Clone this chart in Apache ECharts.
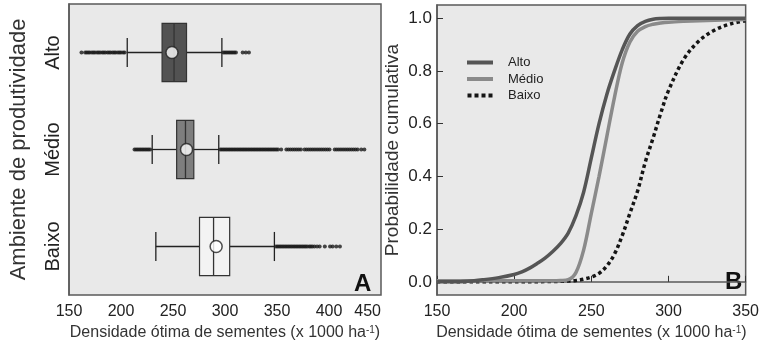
<!DOCTYPE html>
<html>
<head>
<meta charset="utf-8">
<script src="https://cdn.jsdelivr.net/npm/echarts@6/dist/echarts.min.js"></script>
<style>
  html, body { margin: 0; padding: 0; background: #fff; }
  #chart { width: 762px; height: 346px; }
</style>
</head>
<body>
<div id="chart"></div>
<script>
// panel A: boxplots of optimum seeding density per yield environment
const groups = ['Baixo', 'Médio', 'Alto'];
// [lower whisker, Q1, median, Q3, upper whisker]
const boxBaixo = [233.5, 275.5, 289, 304.5, 347.5];
const boxMedio = [230, 253.5, 262, 270, 294];
const boxAlto = [206, 239.5, 251, 263, 297];
const means = [291.5, 263, 249];

const outBaixo = [349, 350.5, 352, 353.5, 355, 356.5, 358, 359.5, 361, 362.5, 364, 365.5, 367, 368.5,
  370, 371.5, 373, 374.5, 376, 377.5, 379, 381, 382.5, 384, 386, 388.5, 391, 396, 401, 403.5, 407, 410.5];
const outMedio = [213, 214.5, 216, 217.5, 219, 220.5, 222, 223.5, 225, 226.5, 228,
  295.5, 297, 298.5, 300, 301.5, 303, 304.5, 306, 307.5, 309, 310.5, 312, 313.5, 315, 316.5, 318,
  319.5, 321, 322.5, 324, 325.5, 327, 328.5, 330, 331.5, 333, 334.5, 336, 337.5, 339, 340.5, 342,
  343.5, 345, 346.5, 348, 349.5, 351, 354,
  359, 361, 363, 365, 367, 369, 371, 373,
  376.5, 378.5, 380.5, 382.5, 384.5, 386.5, 388.5, 390.5, 392.5, 394.5, 396.5, 398.5, 400.5,
  405.5, 407.5, 409.5, 411.5, 413.5, 415.5, 417.5, 419.5, 421.5, 423.5, 425.5, 427.5, 431, 434];
const outAlto = [162, 165.5, 167, 168.5, 170, 172, 173.5, 175, 177, 178.5, 180, 182, 183.5, 185,
  187, 188.5, 190, 192, 193.5, 195, 197, 198.5, 200, 202, 203.5,
  298.5, 300, 301.5, 303, 304.5, 306, 307.5, 309, 310.5, 317, 320, 323];

// panel B: cumulative probability curves
const density = [150, 160, 170, 180, 190, 200, 205, 210, 215, 220, 225, 230, 235, 240, 245, 250,
  255, 260, 265, 270, 275, 280, 285, 290, 295, 300, 310, 320, 330, 340, 350];
const cdfAlto = [0, 0, 0.002, 0.008, 0.016, 0.028, 0.038, 0.052, 0.07, 0.09, 0.115, 0.145, 0.185,
  0.25, 0.34, 0.47, 0.6, 0.71, 0.8, 0.88, 0.94, 0.972, 0.988, 0.996, 0.999, 1, 1, 1, 1, 1, 1];
const cdfMedio = [0.004, 0.004, 0.004, 0.004, 0.004, 0.004, 0.004, 0.004, 0.004, 0.004, 0.004, 0.005,
  0.008, 0.035, 0.12, 0.26, 0.4, 0.55, 0.7, 0.83, 0.91, 0.95, 0.968, 0.977, 0.982, 0.985, 0.988,
  0.99, 0.992, 0.994, 0.995];
const cdfBaixo = [0, 0, 0, 0, 0, 0, 0, 0, 0, 0.001, 0.001, 0.002, 0.003, 0.005, 0.01, 0.018, 0.032,
  0.06, 0.105, 0.175, 0.26, 0.345, 0.455, 0.545, 0.64, 0.725, 0.845, 0.915, 0.955, 0.978, 0.99];

const probTicks = [0, 0.2, 0.4, 0.6, 0.8, 1.0];

const font = 'Liberation Sans, Arial, sans-serif';
const frame = '#5a5a5a';
const boxFill = ['#f3f3f3', '#7e7e7e', '#525252'];

const boxData = [boxBaixo, boxMedio, boxAlto].map((b, i) => [i].concat(b));

function renderBox(params, api) {
  const cat = api.value(0);
  const lo = api.coord([api.value(1), cat]);
  const q1 = api.coord([api.value(2), cat]);
  const med = api.coord([api.value(3), cat]);
  const q3 = api.coord([api.value(4), cat]);
  const hi = api.coord([api.value(5), cat]);
  const band = api.size([0, 1])[1];
  const hb = band * 0.3;
  const hc = band * 0.15;
  const y = lo[1];
  const ln = { stroke: '#222', lineWidth: 1.3 };
  return {
    type: 'group',
    children: [
      { type: 'line', shape: { x1: lo[0], y1: y, x2: q1[0], y2: y }, style: ln },
      { type: 'line', shape: { x1: q3[0], y1: y, x2: hi[0], y2: y }, style: ln },
      { type: 'line', shape: { x1: lo[0], y1: y - hc, x2: lo[0], y2: y + hc }, style: ln },
      { type: 'line', shape: { x1: hi[0], y1: y - hc, x2: hi[0], y2: y + hc }, style: ln },
      { type: 'rect', shape: { x: q1[0], y: y - hb, width: q3[0] - q1[0], height: hb * 2 },
        style: { fill: boxFill[params.dataIndex], stroke: '#333', lineWidth: 1.2 } },
      { type: 'line', shape: { x1: med[0], y1: y - hb, x2: med[0], y2: y + hb }, style: { stroke: '#333', lineWidth: 1.3 } }
    ]
  };
}

const chart = echarts.init(document.getElementById('chart'));

const tickLabel = { color: '#222', fontSize: 16, fontFamily: font };
const axisName = { color: '#333', fontSize: 16, fontFamily: font,
  rich: { sup: { fontSize: 10, verticalAlign: 'top', color: '#333', fontFamily: font, padding: [0, 0, 6, 0] } } };
const xName = 'Densidade ótima de sementes (x 1000 ha{sup|-1})';

chart.setOption({
  animation: false,
  grid: [
    { left: 69, top: 4, width: 312, height: 291, show: true, backgroundColor: '#e9e9e9', borderColor: frame, borderWidth: 1.5 },
    { left: 437, top: 5, width: 312, height: 290, show: true, backgroundColor: '#e9e9e9', borderColor: frame, borderWidth: 1.5 }
  ],
  xAxis: [
    {
      gridIndex: 0, type: 'value', min: 150, max: 450, interval: 50,
      axisLine: { lineStyle: { color: frame, width: 1.5 } },
      axisTick: { inside: true, length: 6, lineStyle: { color: '#333' } },
      axisLabel: Object.assign({ margin: 9, alignMaxLabel: 'right' }, tickLabel),
      splitLine: { show: false },
      name: xName, nameLocation: 'middle', nameGap: 27, nameTextStyle: axisName
    },
    {
      gridIndex: 1, type: 'value', min: 150, max: 350, interval: 50,
      axisLine: { lineStyle: { color: frame, width: 1.5 } },
      axisTick: { inside: true, length: 6, lineStyle: { color: '#333' } },
      axisLabel: Object.assign({ margin: 9 }, tickLabel),
      splitLine: { show: false },
      name: xName, nameLocation: 'middle', nameGap: 27, nameTextStyle: axisName
    }
  ],
  yAxis: [
    {
      gridIndex: 0, type: 'category', data: groups,
      axisLine: { lineStyle: { color: frame, width: 1.5 } },
      axisTick: { inside: true, length: 6, alignWithLabel: true, lineStyle: { color: '#333' } },
      axisLabel: { rotate: 90, margin: 6, color: '#222', fontSize: 20, fontFamily: font },
      name: 'Ambiente de produtividade', nameLocation: 'middle', nameGap: 39,
      nameTextStyle: { color: '#333', fontSize: 22, fontFamily: font }
    },
    {
      gridIndex: 1, type: 'value', min: -0.05, max: 1.05,
      axisLine: { lineStyle: { color: frame, width: 1.5 } },
      axisTick: { inside: true, length: 6, customValues: probTicks, lineStyle: { color: '#333' } },
      axisLabel: { customValues: probTicks, formatter: v => v.toFixed(1), margin: 5, color: '#222', fontSize: 17, fontFamily: font },
      splitLine: { show: false },
      name: 'Probabilidade cumulativa', nameLocation: 'middle', nameGap: 35,
      nameTextStyle: { color: '#333', fontSize: 19, fontFamily: font }
    }
  ],
  legend: {
    data: [
      { name: 'Alto', icon: 'rect' },
      { name: 'Médio', icon: 'rect' },
      { name: 'Baixo', icon: 'path://M0,0h4v4h-4zM7,0h4v4h-4zM14,0h4v4h-4zM21,0h4v4h-4z' }
    ],
    orient: 'vertical', left: 467, top: 56, padding: 0,
    itemWidth: 26, itemHeight: 4, itemGap: 3.5,
    selectedMode: false,
    textStyle: { fontSize: 13, color: '#222', fontFamily: font, padding: [0, 0, 0, 10] }
  },
  graphic: [
    { type: 'text', left: 354, top: 272, style: { text: 'A', font: 'bold 24px ' + font, fill: '#111' } },
    { type: 'text', left: 725, top: 270, style: { text: 'B', font: 'bold 24px ' + font, fill: '#111' } }
  ],
  series: [
    {
      name: 'outliers', type: 'scatter', xAxisIndex: 0, yAxisIndex: 0,
      symbol: 'circle', symbolSize: 4, itemStyle: { color: '#1a1a1a' },
      data: outBaixo.map(v => [v, 'Baixo']).concat(outMedio.map(v => [v, 'Médio']), outAlto.map(v => [v, 'Alto']))
    },
    {
      name: 'boxes', type: 'custom', xAxisIndex: 0, yAxisIndex: 0,
      renderItem: renderBox, encode: { y: 0, x: [1, 2, 3, 4, 5] }, data: boxData
    },
    {
      name: 'means', type: 'scatter', xAxisIndex: 0, yAxisIndex: 0,
      symbol: 'circle', symbolSize: 12, z: 5,
      itemStyle: { color: '#fff', borderColor: '#222', borderWidth: 1.5 },
      data: means.map((m, i) => [m, groups[i]])
    },
    {
      name: 'Baixo', type: 'line', xAxisIndex: 1, yAxisIndex: 1,
      symbol: 'none', smooth: 0.35,
      lineStyle: { color: '#151515', width: 3.5, type: [3.5, 3], cap: 'butt' },
      itemStyle: { color: '#151515' },
      data: density.map((d, i) => [d, cdfBaixo[i]])
    },
    {
      name: 'Médio', type: 'line', xAxisIndex: 1, yAxisIndex: 1,
      symbol: 'none', smooth: 0.35,
      lineStyle: { color: '#8a8a8a', width: 3.5 },
      itemStyle: { color: '#8a8a8a' },
      data: density.map((d, i) => [d, cdfMedio[i]])
    },
    {
      name: 'Alto', type: 'line', xAxisIndex: 1, yAxisIndex: 1,
      symbol: 'none', smooth: 0.35,
      lineStyle: { color: '#555', width: 3.5 },
      itemStyle: { color: '#555' },
      data: density.map((d, i) => [d, cdfAlto[i]])
    }
  ]
});
</script>
</body>
</html>
